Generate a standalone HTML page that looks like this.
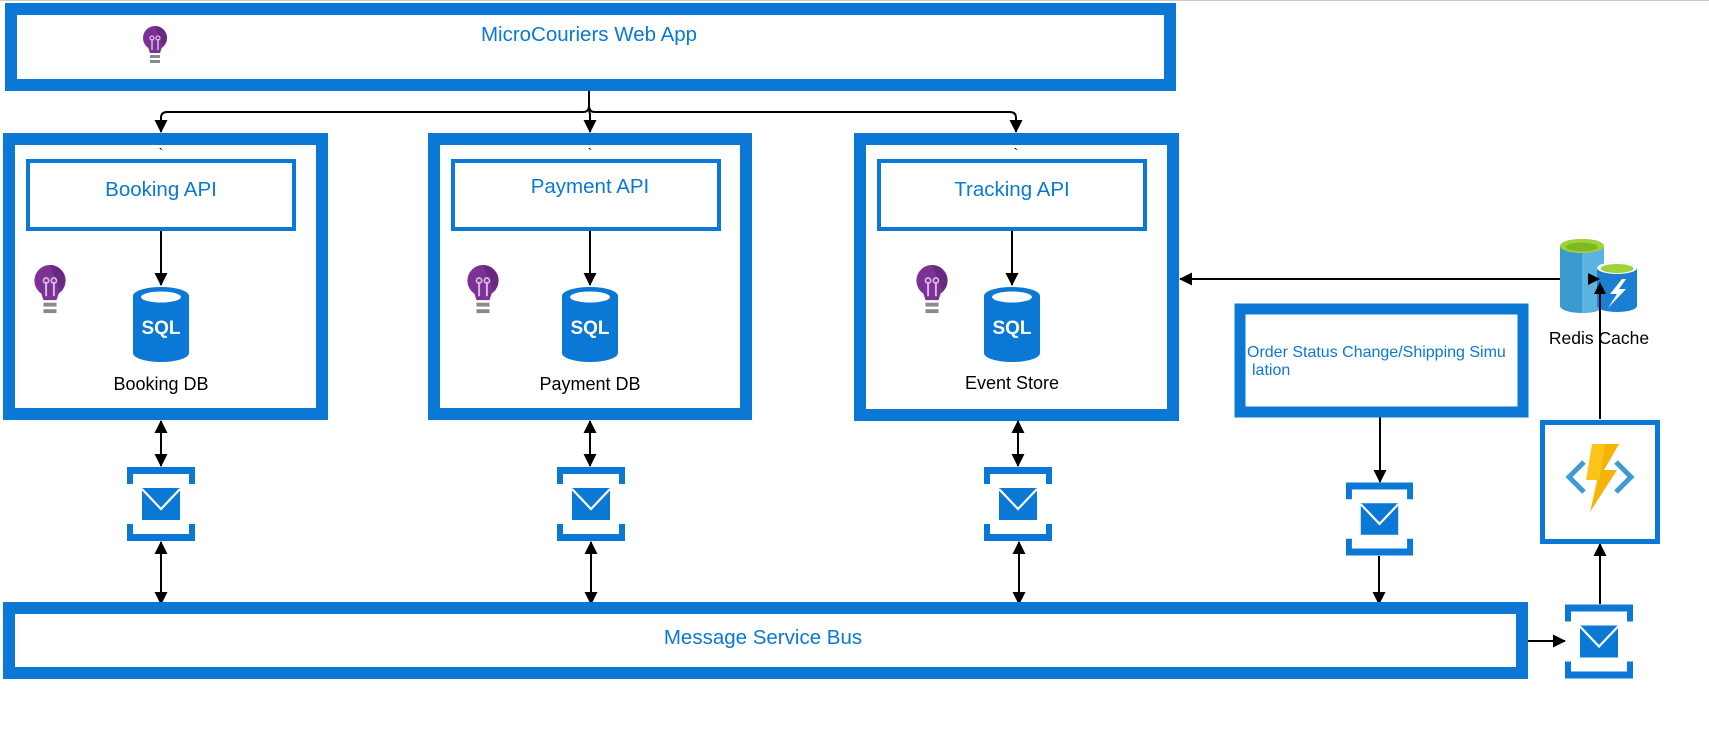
<!DOCTYPE html>
<html><head><meta charset="utf-8"><style>
html,body{margin:0;padding:0;background:#fff;}
svg{display:block;}
text{font-family:"Liberation Sans",Arial,sans-serif;}
</style></head><body>
<svg width="1709" height="739" viewBox="0 0 1709 739" xmlns="http://www.w3.org/2000/svg">
<defs>
<marker id="ah" markerWidth="13" markerHeight="13" refX="12" refY="6.5" orient="auto-start-reverse" markerUnits="userSpaceOnUse">
<path d="M0,0 L13,6.5 L0,13 z" fill="#000"/></marker>
<symbol id="bulb" viewBox="0 0 26 40">
<circle cx="13" cy="12" r="12" fill="#7b3294"/>
<path d="M5,18 Q13,30 21,18 L18,27 L8,27 z" fill="#7b3294"/>
<path d="M13,0 a12,12 0 0 1 12,12 a12,12 0 0 1 -4,8 z" fill="#5c2474" opacity="0.6"/>
<path d="M10,24 V13 M16,24 V13" stroke="#d9b8e6" stroke-width="1.5" fill="none"/>
<circle cx="10" cy="12" r="2" fill="none" stroke="#d9b8e6" stroke-width="1.3"/>
<circle cx="16" cy="12" r="2" fill="none" stroke="#d9b8e6" stroke-width="1.3"/>
<rect x="8" y="29" width="10" height="3" fill="#8a8a8a"/>
<rect x="8" y="34" width="10" height="3" fill="#8a8a8a"/>
</symbol>
<symbol id="sql" viewBox="0 0 56 75">
<path d="M0,9 A28,9 0 0 1 56,9 V66 A28,9 0 0 1 0,66 z" fill="#0a78d4"/>
<ellipse cx="28" cy="10" rx="20" ry="5.5" fill="#fff"/>
<text x="28" y="47" font-size="19" font-weight="bold" fill="#fff" text-anchor="middle">SQL</text>
</symbol>
<symbol id="msg" viewBox="0 0 68 74">
<path d="M0,0 H68 V17 H62 V7 H6 V17 H0 z" fill="#0a78d4"/>
<path d="M0,74 H68 V57 H62 V67 H6 V57 H0 z" fill="#0a78d4"/>
<rect x="15" y="21" width="38" height="32" fill="#0a78d4"/>
<path d="M15,22 L34,42 L53,22" stroke="#fff" stroke-width="2.2" fill="none"/>
</symbol>
</defs>
<line x1="0" y1="0.5" x2="1709" y2="0.5" stroke="#ccc"/>
<rect x="11" y="9" width="1159" height="76" fill="#fff" stroke="#0a78d4" stroke-width="12"/>
<use href="#bulb" x="142" y="26" width="26" height="40"/>
<text x="589" y="41" font-size="20.5" fill="#0a78d4" text-anchor="middle">MicroCouriers Web App</text>
<g stroke="#000" stroke-width="2" fill="none">
<path d="M589,91 V106 Q589,112 583,112 H167 Q161,112 161,118 V132" marker-end="url(#ah)"/>
<path d="M589,106 Q589,112 595,112 H1010 Q1016,112 1016,118 V132" marker-end="url(#ah)"/>
<path d="M589,106 Q589,112 590,114 V132" marker-end="url(#ah)"/>
</g>
<g fill="#fff" stroke="#0a78d4" stroke-width="12">
<rect x="9" y="139" width="313" height="275"/>
<rect x="434" y="139" width="312" height="275"/>
<rect x="860" y="139" width="313" height="276"/>
</g>
<g fill="#fff" stroke="#0a78d4" stroke-width="4">
<rect x="28" y="161" width="266" height="68"/>
<rect x="453" y="161" width="266" height="68"/>
<rect x="879" y="161" width="266" height="68"/>
</g>
<g font-size="20.5" fill="#0a78d4" text-anchor="middle">
<text x="161" y="196">Booking API</text>
<text x="590" y="193">Payment API</text>
<text x="1012" y="196">Tracking API</text>
</g>
<g font-size="14" fill="#000" text-anchor="middle">
<text x="161" y="158">`</text><text x="590" y="158">`</text><text x="1016" y="158">`</text>
</g>
<g stroke="#000" stroke-width="2" fill="none">
<line x1="161" y1="231" x2="161" y2="285" marker-end="url(#ah)"/>
<line x1="590" y1="231" x2="590" y2="285" marker-end="url(#ah)"/>
<line x1="1012" y1="231" x2="1012" y2="285" marker-end="url(#ah)"/>
</g>
<use href="#sql" x="133" y="287" width="56" height="75"/>
<use href="#sql" x="562" y="287" width="56" height="75"/>
<use href="#sql" x="984" y="287" width="56" height="75"/>
<use href="#bulb" x="33" y="265" width="34" height="52"/>
<use href="#bulb" x="466" y="265" width="34" height="52"/>
<use href="#bulb" x="915" y="265" width="34" height="52"/>
<g font-size="18" fill="#000" text-anchor="middle">
<text x="161" y="390">Booking DB</text>
<text x="590" y="390">Payment DB</text>
<text x="1012" y="389">Event Store</text>
</g>
<use href="#msg" x="127" y="467" width="68" height="74"/>
<use href="#msg" x="557" y="467" width="68" height="74"/>
<use href="#msg" x="984" y="467" width="68" height="74"/>
<use href="#msg" x="1346" y="482" width="67" height="74"/>
<use href="#msg" x="1565" y="604" width="68" height="75"/>
<g stroke="#000" stroke-width="2" fill="none">
<line x1="161" y1="421" x2="161" y2="466" marker-start="url(#ah)" marker-end="url(#ah)"/>
<line x1="161" y1="542" x2="161" y2="604" marker-start="url(#ah)" marker-end="url(#ah)"/>
<line x1="590" y1="421" x2="590" y2="466" marker-start="url(#ah)" marker-end="url(#ah)"/>
<line x1="591" y1="542" x2="591" y2="604" marker-start="url(#ah)" marker-end="url(#ah)"/>
<line x1="1018" y1="421" x2="1018" y2="466" marker-start="url(#ah)" marker-end="url(#ah)"/>
<line x1="1019" y1="542" x2="1019" y2="604" marker-start="url(#ah)" marker-end="url(#ah)"/>
<line x1="1380" y1="412" x2="1380" y2="482" marker-end="url(#ah)"/>
<line x1="1379" y1="556" x2="1379" y2="604" marker-end="url(#ah)"/>
<line x1="1180" y1="279" x2="1600" y2="279" marker-start="url(#ah)" marker-end="url(#ah)"/>
<line x1="1600" y1="419" x2="1600" y2="282" marker-end="url(#ah)"/>
<line x1="1600" y1="604" x2="1600" y2="544" marker-end="url(#ah)"/>
<line x1="1522" y1="641" x2="1565" y2="641" marker-end="url(#ah)"/>
</g>
<rect x="1240" y="309" width="283" height="103" fill="#fff" stroke="#0a78d4" stroke-width="11"/>
<g font-size="16" fill="#0a78d4">
<text x="1247" y="357">Order Status Change/Shipping Simu</text>
<text x="1252" y="375">lation</text>
</g>
<rect x="9" y="608" width="1513" height="65" fill="#fff" stroke="#0a78d4" stroke-width="12"/>
<text x="763" y="644" font-size="20.5" fill="#0a78d4" text-anchor="middle">Message Service Bus</text>
<rect x="1542.5" y="422.5" width="115" height="119" fill="#fff" stroke="#0a78d4" stroke-width="5"/>
<path d="M1584,462 L1569,477 L1584,492" stroke="#3c9bd4" stroke-width="5" fill="none"/>
<path d="M1616,462 L1631,477 L1616,492" stroke="#3c9bd4" stroke-width="5" fill="none"/>
<path d="M1592,444 L1619,444 L1604,470 L1617,470 L1590,512 L1597,480 L1586,480 z" fill="#fcc419"/>
<path d="M1605,444 L1619,444 L1604,470 L1617,470 L1590,512 L1600,476 z" fill="#f0a800" opacity="0.6"/>
<path d="M1560,246 A22,7 0 0 1 1604,246 V306 A22,7 0 0 1 1560,306 z" fill="#3a9bd1"/>
<path d="M1582,246 H1604 V306 A22,7 0 0 1 1582,313 z" fill="#5cb3e0"/>
<ellipse cx="1582" cy="246" rx="22" ry="7" fill="#9ed33a"/>
<ellipse cx="1582" cy="247" rx="16" ry="4.5" fill="#7fb81f"/>
<path d="M1597,268 A20,6 0 0 1 1637,268 V306 A20,6 0 0 1 1597,306 z" fill="#1a7fd0"/>
<ellipse cx="1617" cy="268" rx="20" ry="6" fill="#fff"/>
<ellipse cx="1617" cy="268.5" rx="16.5" ry="4.5" fill="#9ed33a"/>
<path d="M1622,279 L1610,294 L1617,294 L1608,308 L1626,289 L1619,289 L1626,279 z" fill="#fff"/>
<line x1="1600" y1="283" x2="1600" y2="330" stroke="#000" stroke-width="2"/>
<text x="1599" y="344" font-size="17.5" fill="#000" text-anchor="middle">Redis Cache</text>
<path d="M1588,273 L1600,279 L1588,285 z" fill="#000"/>
<path d="M1594,294 L1600,282 L1606,294 z" fill="#000"/>
</svg>
</body></html>
